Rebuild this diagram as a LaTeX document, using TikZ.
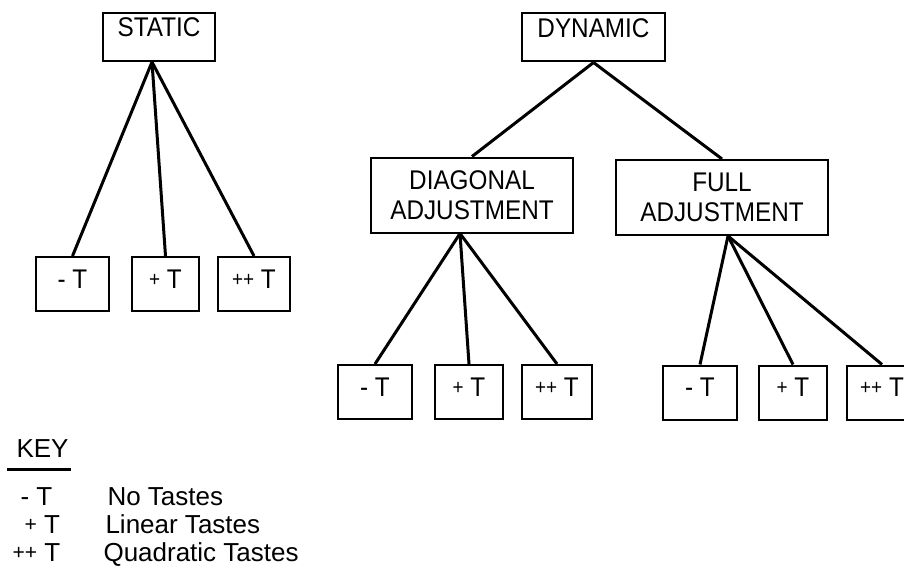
\documentclass[tikz,border=0pt]{standalone}
\usepackage{fontspec}
\setmainfont{Liberation Sans}[FakeStretch=0.9]
\newfontfamily\keyfont{Liberation Sans}
% small plus signs, as lettered in the original
\newcommand{\sml}[1]{\raisebox{2pt}{\fontsize{21}{21}\selectfont #1}}

\begin{document}
\begin{tikzpicture}[x=1pt, y=-1pt,
    every node/.style={font=\fontsize{27}{30}\selectfont},
    box/.style={draw, line width=2pt, inner sep=0pt},
    head/.style={box, text height=24pt, text depth=24pt},
    mid/.style={box, align=center, minimum height=75pt},
    leaf/.style={box, text height=31pt, text depth=23pt},
    link/.style={line width=3pt},
    keytext/.style={anchor=base west, font=\keyfont\fontsize{26}{30}\selectfont}]
  \useasboundingbox (0,0) rectangle (904,567);

  % static tree
  \node[head, minimum width=112pt] (static) at (159,37) {STATIC};
  \node[leaf, minimum width=73pt] (sminus) at (72.5,284) {- T};
  \node[leaf, minimum width=67pt] (splus)  at (165.5,284) {\sml{+} T};
  \node[leaf, minimum width=72pt] (spp)    at (254,284) {\sml{++} T};

  \draw[link] ([xshift=-7pt]static.south) -- (sminus.north);
  \draw[link] ([xshift=-7pt]static.south) -- (splus.north);
  \draw[link] ([xshift=-7pt]static.south) -- (spp.north);

  % dynamic tree
  \node[head, minimum width=143pt] (dynamic) at (593.5,37.5) {DYNAMIC};
  \node[mid, minimum width=202pt] (diag) at (472,195) {DIAGONAL\\ADJUSTMENT};
  \node[mid, minimum width=212pt] (full) at (722,197.5) {FULL\\ADJUSTMENT};

  \draw[link] (dynamic.south) -- (diag.north);
  \draw[link] (dynamic.south) -- (full.north);

  \node[leaf, minimum width=74pt] (dminus) at (375,392) {- T};
  \node[leaf, minimum width=68pt] (dplus)  at (469,392) {\sml{+} T};
  \node[leaf, minimum width=70pt] (dpp)    at (557,392) {\sml{++} T};

  \draw[link] ([xshift=-12pt]diag.south) -- (dminus.north);
  \draw[link] ([xshift=-12pt]diag.south) -- (dplus.north);
  \draw[link] ([xshift=-12pt]diag.south) -- (dpp.north);

  \node[leaf, minimum width=74pt] (fminus) at (700,392.5) {- T};
  \node[leaf, minimum width=68pt] (fplus)  at (793,392.5) {\sml{+} T};
  \node[leaf, minimum width=70pt] (fpp)    at (882,392.5) {\sml{++} T};

  \draw[link] ([xshift=6pt]full.south) -- (fminus.north);
  \draw[link] ([xshift=6pt]full.south) -- (fplus.north);
  \draw[link] ([xshift=6pt]full.south) -- (fpp.north);

  % key
  \node[keytext] (key) at (13,457) {KEY};
  \draw[line width=3pt] (7,469) -- (71,469);

  \node[keytext] (kminus) at (17,505) {- T};
  \node[keytext] (kplus)  at (21,533) {\sml{+} T};
  \node[keytext] (kpp)    at (9,561) {\sml{++} T};
  \node[keytext] (tno)    at (104,505) {No Tastes};
  \node[keytext] (tlin)   at (102,533) {Linear Tastes};
  \node[keytext] (tquad)  at (100,561) {Quadratic Tastes};
\end{tikzpicture}
\end{document}
